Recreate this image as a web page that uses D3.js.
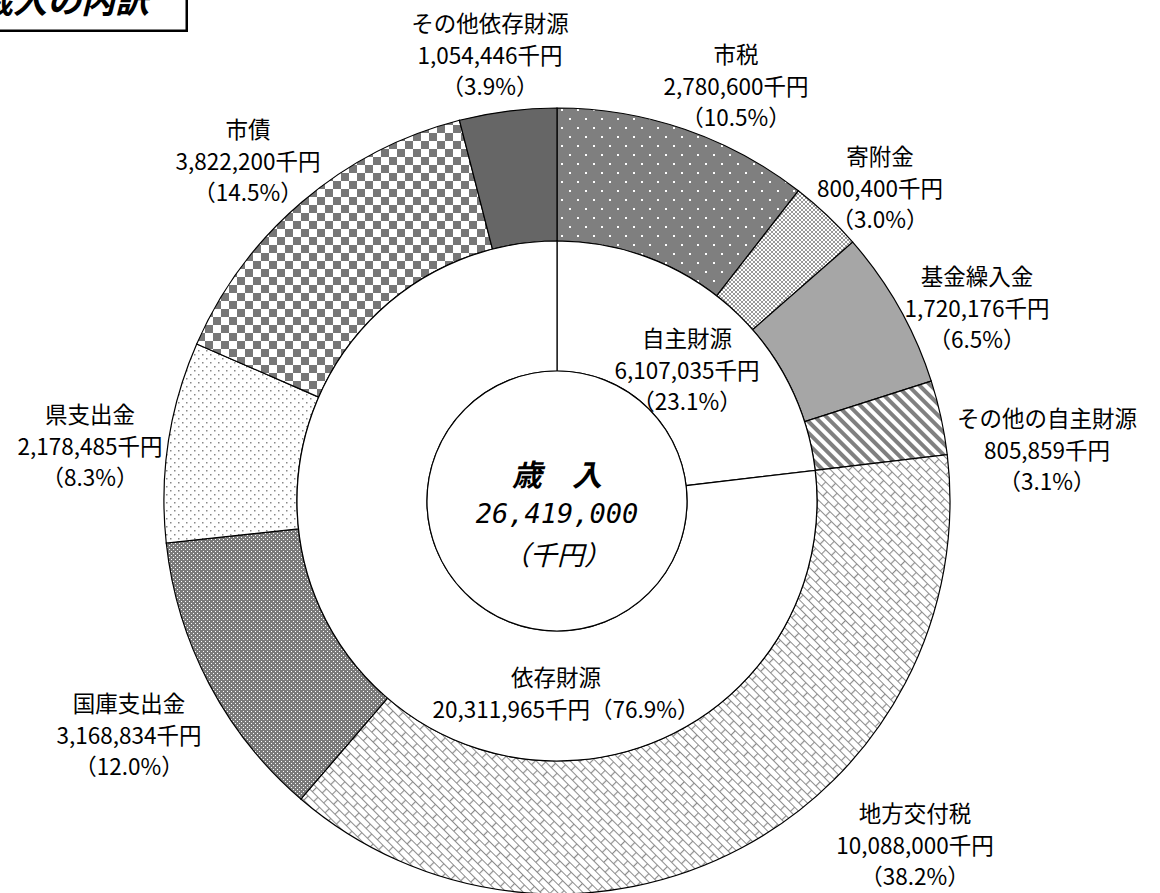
<!DOCTYPE html>
<html>
<head>
<meta charset="utf-8">
<script src="https://cdn.jsdelivr.net/npm/d3@7"></script>
<style>
  body { margin: 0; background: #fff; }
  text { font-family: "Noto Sans CJK JP", sans-serif; fill: #000; }
</style>
</head>
<body>
<div id="chart"></div>
<script>
// outer ring items (clockwise from top)
var items = ["市税", "寄附金", "基金繰入金", "その他の自主財源", "地方交付税", "国庫支出金", "県支出金", "市債", "その他依存財源"];
var amounts = [2780600, 800400, 1720176, 805859, 10088000, 3168834, 2178485, 3822200, 1054446];
var shares = ["10.5%", "3.0%", "6.5%", "3.1%", "38.2%", "12.0%", "8.3%", "14.5%", "3.9%"];

// inner ring groups
var groups = ["自主財源", "依存財源"];
var groupAmounts = [6107035, 20311965];
var groupShares = ["23.1%", "76.9%"];

var total = 26419000;

var width = 1160, height = 893;
var cx = 557, cy = 501;
var r0 = 130, r1 = 260, r2 = 393;

var svg = d3.select("#chart").append("svg")
  .attr("width", width)
  .attr("height", height);

var defs = svg.append("defs");

// patterns for each slice
function pat(id, w, h, bg, transform) {
  var p = defs.append("pattern")
    .attr("id", id)
    .attr("patternUnits", "userSpaceOnUse")
    .attr("width", w).attr("height", h);
  if (transform) p.attr("patternTransform", transform);
  p.append("rect").attr("width", w).attr("height", h).attr("fill", bg);
  return p;
}

// 市税: dark gray with white dots
var p1 = pat("p0", 16, 18, "#7f7f7f");
p1.append("rect").attr("x", 4).attr("y", 4).attr("width", 2).attr("height", 2).attr("fill", "#fff");
p1.append("rect").attr("x", 12).attr("y", 13).attr("width", 2).attr("height", 2).attr("fill", "#fff");

// 寄附金: small checker
var p2 = pat("p1", 4, 4, "#fff");
p2.append("rect").attr("width", 2).attr("height", 2).attr("fill", "#999");
p2.append("rect").attr("x", 2).attr("y", 2).attr("width", 2).attr("height", 2).attr("fill", "#999");

// 基金繰入金: solid
pat("p2", 4, 4, "#a6a6a6");

// その他の自主財源: diagonal stripes
var p4 = pat("p3", 8, 8, "#fff", "rotate(-45)");
p4.append("rect").attr("width", 4).attr("height", 8).attr("fill", "#808080");

// 地方交付税: diagonal brick
var p5 = pat("p4", 16, 12, "#fff", "rotate(45)");
p5.append("path")
  .attr("d", "M0,0.5H16M0,6.5H16M0.5,0V6M8.5,6V12")
  .attr("stroke", "#8c8c8c").attr("stroke-width", 1.2).attr("fill", "none");

// 国庫支出金: dark with white mesh
var p6 = pat("p5", 4, 4, "#7a7a7a");
p6.append("rect").attr("x", 0).attr("y", 0).attr("width", 1).attr("height", 1).attr("fill", "#fff");
p6.append("rect").attr("x", 2).attr("y", 2).attr("width", 1).attr("height", 1).attr("fill", "#fff");

// 県支出金: sparse gray dots
var p7 = pat("p6", 8, 8, "#fff");
p7.append("rect").attr("x", 1).attr("y", 1).attr("width", 1.5).attr("height", 1.5).attr("fill", "#888");
p7.append("rect").attr("x", 5).attr("y", 5).attr("width", 1.5).attr("height", 1.5).attr("fill", "#888");

// 市債: large checker
var p8 = pat("p7", 16, 16, "#fff");
p8.append("rect").attr("width", 8).attr("height", 8).attr("fill", "#777");
p8.append("rect").attr("x", 8).attr("y", 8).attr("width", 8).attr("height", 8).attr("fill", "#777");

// その他依存財源: solid dark
pat("p8", 4, 4, "#666");

var chart = svg.append("g")
  .attr("transform", "translate(" + cx + "," + cy + ")");

var pie = d3.pie().sort(null).value(function(d) { return d; });

var outerArc = d3.arc().innerRadius(r1).outerRadius(r2);
var innerArc = d3.arc().innerRadius(r0).outerRadius(r1);

chart.selectAll(".outer")
  .data(pie(amounts))
  .enter()
  .append("path")
  .attr("class", "outer")
  .attr("d", outerArc)
  .attr("fill", function(d, i) { return "url(#p" + i + ")"; })
  .attr("stroke", "#000")
  .attr("stroke-width", 1.2);

chart.selectAll(".inner")
  .data(pie(groupAmounts))
  .enter()
  .append("path")
  .attr("class", "inner")
  .attr("d", innerArc)
  .attr("fill", "#fff")
  .attr("stroke", "#000")
  .attr("stroke-width", 1.2);

chart.append("circle")
  .attr("r", r0)
  .attr("fill", "#fff")
  .attr("stroke", "#000")
  .attr("stroke-width", 1.2);

// center text
chart.append("text")
  .attr("text-anchor", "middle").attr("dominant-baseline", "central")
  .attr("y", -28)
  .style("font-size", "30px").style("font-weight", "bold").style("font-style", "italic")
  .text("歳　入");
chart.append("text")
  .attr("text-anchor", "middle").attr("dominant-baseline", "central")
  .attr("y", 12)
  .style("font-size", "27px").style("font-style", "italic")
  .style("font-family", "'DejaVu Sans Mono', monospace")
  .text(d3.format(",")(total));
chart.append("text")
  .attr("text-anchor", "middle").attr("dominant-baseline", "central")
  .attr("y", 52)
  .style("font-size", "27px").style("font-style", "italic")
  .text("（千円）");

// labels
var fmt = d3.format(",");
var lineH = 31.5;
var labelPos = [
  [736, 53], [880, 155], [977, 275], [1047, 417], [915, 812],
  [129, 702], [90, 413], [248, 128], [490, 22]
];

function addLabel(x, y, lines) {
  var t = svg.append("text")
    .attr("text-anchor", "middle")
    .attr("dominant-baseline", "central")
    .style("font-size", "22.5px");
  lines.forEach(function(s, k) {
    t.append("tspan").attr("x", x).attr("y", y + k * lineH).text(s);
  });
}

items.forEach(function(name, i) {
  addLabel(labelPos[i][0], labelPos[i][1],
    [name, fmt(amounts[i]) + "千円", "（" + shares[i] + "）"]);
});

addLabel(687, 337, [groups[0], fmt(groupAmounts[0]) + "千円", "（" + groupShares[0] + "）"]);
addLabel(556, 676, [groups[1]]);
addLabel(566, 676 + lineH, [fmt(groupAmounts[1]) + "千円（" + groupShares[1] + "）"]);

// title box (cut off at the page corner)
svg.append("rect")
  .attr("x", -10).attr("y", -10).attr("width", 198).attr("height", 42)
  .attr("fill", "#000");
svg.append("rect")
  .attr("x", -12).attr("y", -12).attr("width", 198).attr("height", 42)
  .attr("fill", "#fff").attr("stroke", "#000").attr("stroke-width", 1);
svg.append("text")
  .attr("x", 149).attr("y", 13)
  .attr("text-anchor", "end")
  .style("font-size", "34px").style("font-weight", "bold").style("font-style", "italic")
  .text("歳入の内訳");
</script>
</body>
</html>
